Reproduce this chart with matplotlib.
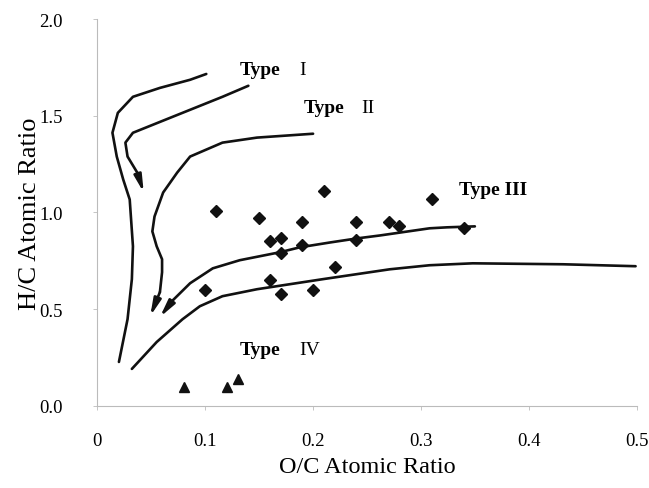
import matplotlib
matplotlib.use("Agg")
import matplotlib.pyplot as plt
import numpy as np

plt.rcParams['font.family'] = ['Liberation Serif', 'DejaVu Serif']

# samples (diamonds = Type III, triangles = Type IV)
oc_pts = [0.11, 0.15, 0.21, 0.19, 0.24, 0.27, 0.28, 0.31, 0.34, 0.16,
          0.17, 0.17, 0.19, 0.24, 0.22, 0.10, 0.16, 0.17, 0.20]
hc_pts = [1.01, 0.97, 1.11, 0.95, 0.95, 0.95, 0.93, 1.07, 0.92, 0.85,
          0.87, 0.79, 0.83, 0.86, 0.72, 0.60, 0.65, 0.58, 0.60]
oc_tri = [0.08, 0.12, 0.13]
hc_tri = [0.10, 0.10, 0.14]

# evolution paths
typeI_out_x = [0.101, 0.086, 0.058, 0.033, 0.019, 0.014, 0.018, 0.024, 0.030, 0.033, 0.032, 0.028, 0.020]
typeI_out_y = [1.716, 1.686, 1.644, 1.598, 1.515, 1.412, 1.289, 1.170, 1.067, 0.825, 0.655, 0.448, 0.227]
typeI_in_x = [0.140, 0.116, 0.070, 0.033, 0.026, 0.028, 0.037, 0.043]
typeI_in_y = [1.655, 1.598, 1.495, 1.412, 1.361, 1.289, 1.206, 1.103]
typeII_x = [0.200, 0.148, 0.116, 0.086, 0.074, 0.061, 0.053, 0.051, 0.055, 0.060, 0.060, 0.058, 0.049]
typeII_y = [1.407, 1.387, 1.361, 1.289, 1.206, 1.103, 0.979, 0.902, 0.825, 0.758, 0.691, 0.588, 0.464]
typeIII_x = [0.350, 0.324, 0.308, 0.262, 0.241, 0.216, 0.188, 0.169, 0.132, 0.107, 0.086, 0.070, 0.058]
typeIII_y = [0.928, 0.923, 0.918, 0.881, 0.866, 0.845, 0.820, 0.794, 0.753, 0.711, 0.634, 0.546, 0.459]
lower_x = [0.032, 0.055, 0.079, 0.095, 0.116, 0.148, 0.209, 0.271, 0.308, 0.348, 0.432, 0.499]
lower_y = [0.191, 0.330, 0.448, 0.515, 0.567, 0.603, 0.655, 0.706, 0.727, 0.737, 0.732, 0.722]

fig = plt.figure(figsize=(6.49, 4.89), dpi=100)
ax = fig.add_axes([0.150, 0.168, 0.831, 0.791])

lw = 1.9
ax.plot(typeI_out_x, typeI_out_y, color='#111111', lw=lw, solid_capstyle='round', solid_joinstyle='round')
ax.plot(lower_x, lower_y, color='#111111', lw=lw, solid_capstyle='round', solid_joinstyle='round')

def arrow_path(xs, ys):
    ax.plot(xs[:-1], ys[:-1], color='#111111', lw=lw, solid_capstyle='round', solid_joinstyle='round')
    ax.annotate('', xy=(xs[-1], ys[-1]), xytext=(xs[-2], ys[-2]),
                arrowprops=dict(arrowstyle='-|>,head_length=1.0,head_width=0.22',
                                color='#111111', lw=lw, shrinkA=0, shrinkB=0))

arrow_path(typeI_in_x, typeI_in_y)
arrow_path(typeII_x, typeII_y)
arrow_path(typeIII_x, typeIII_y)

ax.plot(oc_pts, hc_pts, 'D', color='#111111', ms=6, clip_on=False)
ax.plot(oc_tri, hc_tri, '^', color='#111111', ms=7.5, clip_on=False)

# labels of the kerogen types
ax.text(0.132, 1.74, 'Type', fontsize=14, fontweight='bold', va='center')
ax.text(0.187, 1.74, 'I', fontsize=14, va='center')
ax.text(0.191, 1.545, 'Type', fontsize=14, fontweight='bold', va='center')
ax.text(0.245, 1.545, 'II', fontsize=14, va='center')
ax.text(0.335, 1.12, 'Type III', fontsize=14, fontweight='bold', va='center')
ax.text(0.132, 0.29, 'Type', fontsize=14, fontweight='bold', va='center')
ax.text(0.187, 0.29, 'IV', fontsize=14, va='center')

ax.set_xlim(0, 0.5)
ax.set_ylim(0, 2.0)
ax.set_xticks([0, 0.1, 0.2, 0.3, 0.4, 0.5])
ax.set_xticklabels(['0', '0.1', '0.2', '0.3', '0.4', '0.5'])
ax.set_yticks([0, 0.5, 1.0, 1.5, 2.0])
ax.set_yticklabels(['0.0', '0.5', '1.0', '1.5', '2.0'])
ax.tick_params(labelsize=13.5, length=3, width=0.6, color='#bbbbbb')
ax.tick_params(axis='x', pad=16)
ax.tick_params(axis='y', pad=22)

for s in ['top', 'right']:
    ax.spines[s].set_visible(False)
for s in ['left', 'bottom']:
    ax.spines[s].set_color('#bbbbbb')
    ax.spines[s].set_linestyle((0, (1, 1)))
    ax.spines[s].set_linewidth(0.8)

ax.set_xlabel('O/C Atomic Ratio', fontsize=17.5)
ax.set_ylabel('H/C Atomic Ratio', fontsize=19)
ax.xaxis.set_label_coords(0.5, -0.13)
ax.yaxis.set_label_coords(-0.105, 0.5)

fig.savefig('out.png', dpi=100)
